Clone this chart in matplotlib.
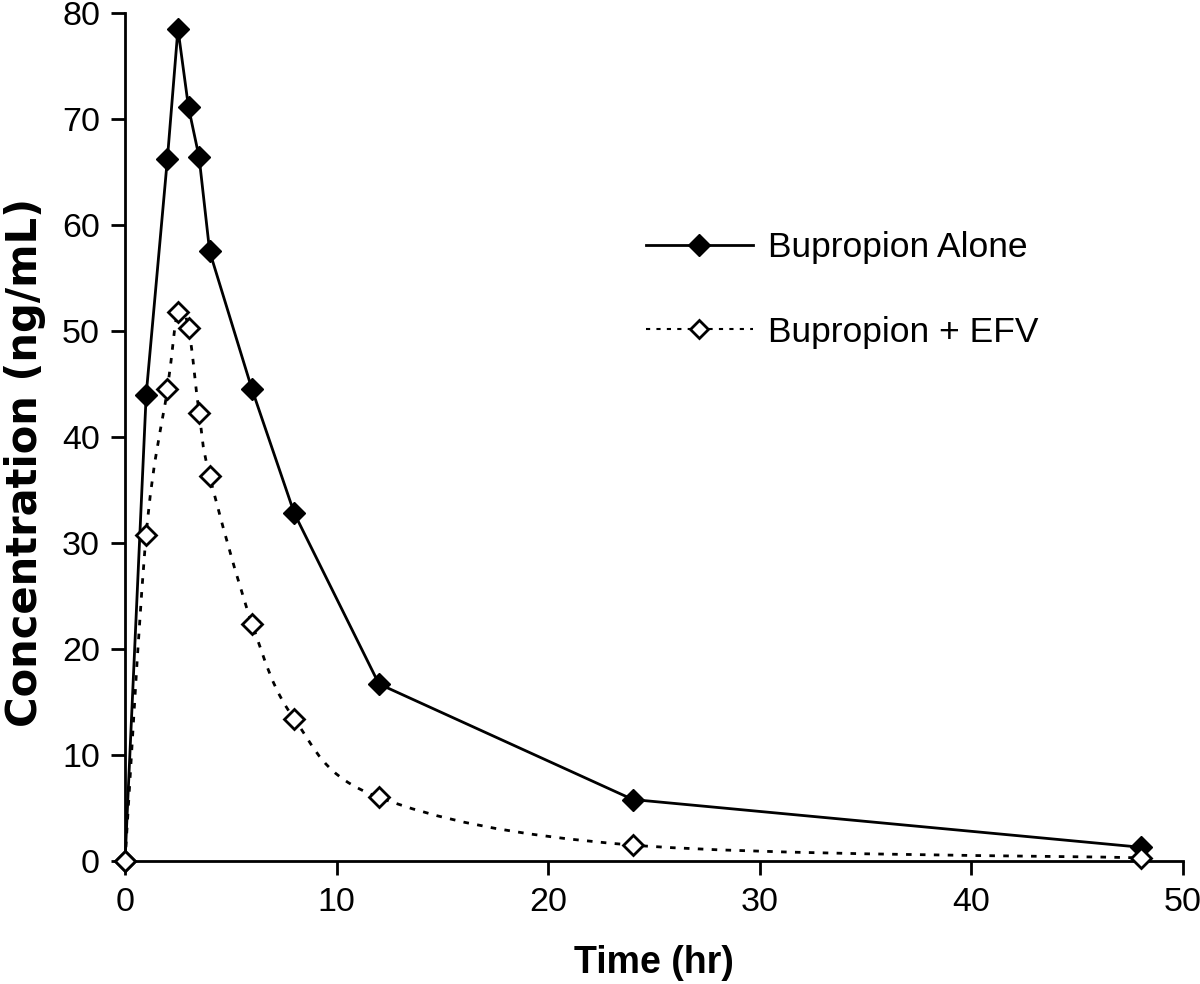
import numpy as np
import matplotlib.pyplot as plt
from matplotlib.path import Path
from matplotlib.patches import PathPatch
from matplotlib.lines import Line2D

plt.rcParams['font.family'] = ['Liberation Sans', 'DejaVu Sans']

# Tiempos de muestreo (hr)
tiempo = [0, 1, 2, 2.5, 3, 3.5, 4, 6, 8, 12, 24, 48]
# Bupropion solo (ng/mL)
solo = [0, 44.0, 66.2, 78.5, 71.1, 66.4, 57.5, 44.5, 32.8, 16.7, 5.8, 1.3]
# Bupropion + EFV (ng/mL)
con_efv = [0, 30.8, 44.5, 51.8, 50.3, 42.3, 36.3, 22.4, 13.4, 6.0, 1.5, 0.3]


def curva_suave(x, y):
    # camino Bezier tipo Catmull-Rom (linea suavizada estilo Excel)
    x = np.asarray(x, float)
    y = np.asarray(y, float)
    n = len(x)
    verts = [(x[0], y[0])]
    codes = [Path.MOVETO]
    for i in range(n - 1):
        i0 = max(i - 1, 0)
        i3 = min(i + 2, n - 1)
        c1 = (x[i] + (x[i + 1] - x[i0]) / 6, y[i] + (y[i + 1] - y[i0]) / 6)
        c2 = (x[i + 1] - (x[i3] - x[i]) / 6, y[i + 1] - (y[i3] - y[i]) / 6)
        verts += [c1, c2, (x[i + 1], y[i + 1])]
        codes += [Path.CURVE4] * 3
    return Path(verts, codes)


fig = plt.figure(figsize=(12, 9.84), dpi=100)
ax = fig.add_axes([0.1042, 0.125, 0.8816, 0.8618])

estilo_punteado = (0, (2, 3))

ax.plot(tiempo, solo, color='black', lw=2, marker='D', ms=11,
        mfc='black', mec='black', clip_on=False, zorder=4)

ax.add_patch(PathPatch(curva_suave(tiempo, con_efv), fill=False,
                       edgecolor='black', lw=2, linestyle=estilo_punteado,
                       zorder=2))
ax.plot(tiempo, con_efv, linestyle='none', marker='D', ms=10,
        mfc='white', mec='black', mew=2, clip_on=False, zorder=5)

ax.set_xlim(0, 50)
ax.set_ylim(0, 80)
ax.set_xticks(np.arange(0, 51, 10))
ax.set_yticks(np.arange(0, 81, 10))

for lado in ['top', 'right']:
    ax.spines[lado].set_visible(False)
for lado in ['left', 'bottom']:
    ax.spines[lado].set_linewidth(2)

ax.tick_params(axis='both', direction='out', length=10, width=2,
               labelsize=24.5)
ax.tick_params(axis='y', pad=8)
ax.tick_params(axis='x', pad=9)

ax.set_xlabel('Time (hr)', fontsize=27, fontweight='bold', labelpad=19)
ax.set_ylabel('Concentration (ng/mL)', fontsize=30, fontweight='bold',
              family=['DejaVu Sans'])
ax.yaxis.set_label_coords(-0.075, 0.47)

manijas = [
    Line2D([], [], color='black', lw=2, marker='D', ms=11, mfc='black'),
    Line2D([], [], color='black', lw=1.5, linestyle=(0, (2, 3)), marker='D',
           ms=9, mfc='white', mec='black', mew=2),
]
ax.legend(manijas, ['Bupropion Alone', 'Bupropion + EFV'], frameon=False,
          fontsize=25.5, handlelength=3.0, labelspacing=1.45,
          handletextpad=0.45, loc='upper left', bbox_to_anchor=(0.4626, 0.78))

fig.savefig('out.png', dpi=100)
